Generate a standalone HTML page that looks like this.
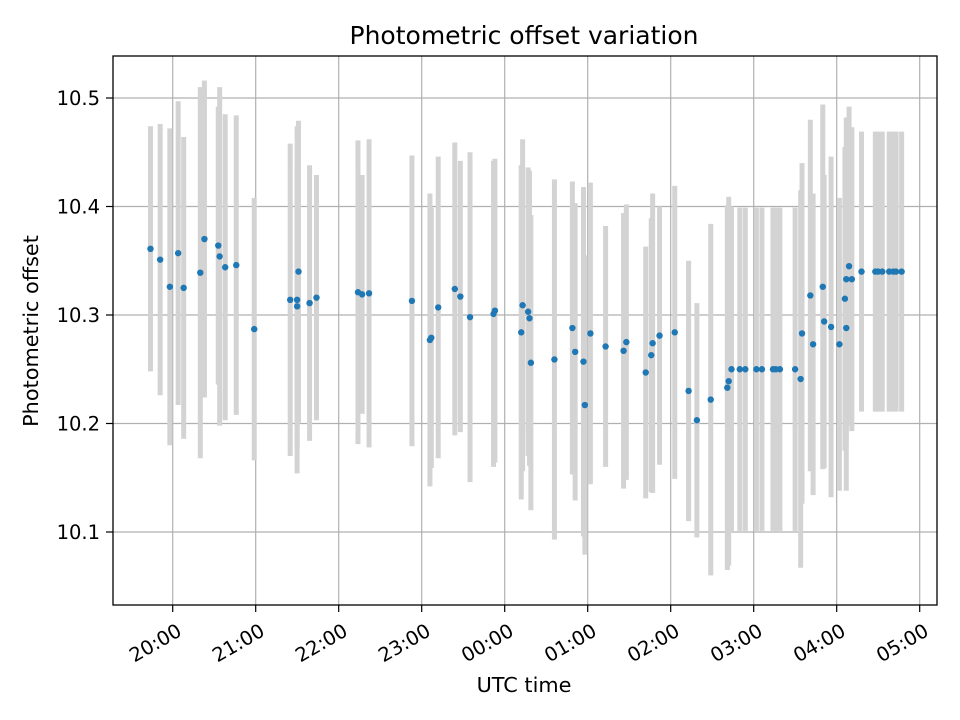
<!DOCTYPE html>
<html><head><meta charset="utf-8"><style>
body{margin:0;background:#fff}
svg{display:block;font-family:"DejaVu Sans","Liberation Sans",sans-serif}
</style></head><body>
<svg id="chart" width="960" height="720" viewBox="0 0 960 720">
<rect width="960" height="720" fill="#fff"/>
<text x="524" y="44" font-size="25" text-anchor="middle" fill="#000">Photometric offset variation</text>
<g id="grid"></g>
<g id="bars"></g>
<g id="pts"></g>
<rect x="113" y="56" width="824" height="549" fill="none" stroke="#000" stroke-width="1.3"/>
<g id="axes"></g>
<text x="524" y="692" font-size="20.8" text-anchor="middle">UTC time</text>
<text transform="translate(38,331) rotate(-90)" font-size="20.8" text-anchor="middle">Photometric offset</text>
</svg>
<script>
const times=["19:43","19:50","19:57","20:03","20:07","20:19","20:22","20:32","20:33","20:37","20:45","20:58",
"21:24","21:29","21:29","21:30","21:38","21:43","22:13","22:16","22:21",
"22:52","23:05","23:06","23:11","23:23","23:27","23:34","23:51","23:52",
"00:12","00:11","00:16","00:17","00:18","00:35","00:48","00:50","00:56","00:57","01:01","01:12","01:25","01:27","01:41","01:45","01:46","01:51",
"02:02","02:12","02:18","02:28","02:40","02:41","02:43","02:49","02:53","03:01","03:05","03:13","03:15","03:18","03:29","03:33","03:34","03:40","03:42","03:49","03:50","03:55",
"04:01","04:05","04:06","04:06","04:08","04:10","04:17","04:27","04:29","04:32","04:37","04:40","04:42","04:46"];
const values=[10.361,10.351,10.326,10.357,10.325,10.339,10.370,10.364,10.354,10.344,10.346,10.287,
10.314,10.308,10.314,10.340,10.311,10.316,10.321,10.319,10.320,
10.313,10.277,10.279,10.307,10.324,10.317,10.298,10.301,10.304,
10.309,10.284,10.303,10.297,10.256,10.259,10.288,10.266,10.257,10.217,10.283,10.271,10.267,10.275,10.247,10.263,10.274,10.281,
10.284,10.230,10.203,10.222,10.233,10.239,10.250,10.250,10.250,10.250,10.250,10.250,10.250,10.250,10.250,10.241,10.283,10.318,10.273,10.326,10.294,10.289,
10.273,10.315,10.288,10.333,10.345,10.333,10.340,10.340,10.340,10.340,10.340,10.340,10.340,10.340];
const errors=[0.113,0.125,0.146,0.140,0.139,0.171,0.146,0.128,0.156,0.141,0.138,0.121,
0.144,0.13,0.16,0.139,0.127,0.113,0.140,0.110,0.142,
0.134,0.135,0.12,0.139,0.135,0.125,0.152,0.141,0.14,
0.153,0.154,0.133,0.136,0.136,0.166,0.135,0.137,0.161,0.138,0.139,0.111,0.127,0.127,0.116,0.126,0.138,0.119,
0.135,0.120,0.108,0.162,0.168,0.17,0.15,0.149,0.149,0.149,0.149,0.149,0.149,0.149,0.149,0.174,0.157,0.162,0.139,0.168,0.135,0.157,
0.135,0.14,0.15,0.149,0.147,0.140,0.129,0.129,0.129,0.129,0.129,0.129,0.129,0.129];
const yTicks=[10.1,10.2,10.3,10.4,10.5];
const yTickLabels=["10.1","10.2","10.3","10.4","10.5"];
const xTicks=[0,60,120,180,240,300,360,420,480,540];
const xTickLabels=["20:00","21:00","22:00","23:00","00:00","01:00","02:00","03:00","04:00","05:00"];

const NS="http://www.w3.org/2000/svg";
function mins(t){let [h,m]=t.split(":").map(Number);if(h<12)h+=24;return (h-20)*60+m;}
function xS(m){return 174+m*83/60;}
function yS(v){return 98+(10.5-v)*1085;}
function mk(tag,attrs,parent){const e=document.createElementNS(NS,tag);for(const k in attrs)e.setAttribute(k,attrs[k]);parent.appendChild(e);return e;}
const grid=document.getElementById('grid'),axes=document.getElementById('axes'),bars=document.getElementById('bars'),pts=document.getElementById('pts');
yTicks.forEach((v,i)=>{const y=yS(v);
 const g=mk('line',{x1:113,x2:937,y1:y,y2:y,stroke:'#b0b0b0','stroke-width':1.2},grid);
 
 
 const t=mk('line',{x1:106,x2:113,y1:y,y2:y,stroke:'#000','stroke-width':1.2},axes);
 
 
 const l=mk('text',{x:100,y:y+7,'font-size':19.5,'text-anchor':'end'},axes);l.textContent=yTickLabels[i];
 
 
});
xTicks.forEach((m,i)=>{const x=xS(m)-1.3;
 const g=mk('line',{x1:x,x2:x,y1:56,y2:605,stroke:'#b0b0b0','stroke-width':1.2},grid);
 
 
 const t=mk('line',{x1:x,x2:x,y1:605,y2:612,stroke:'#000','stroke-width':1.2},axes);
 
 
 const l=mk('text',{transform:`translate(${x+3},${622}) rotate(-30)`,'font-size':19.5,'text-anchor':'end',dy:'0.75em'},axes);l.textContent=xTickLabels[i];
 
 
});
times.forEach((t,i)=>{const x=xS(mins(t));
 const b=mk('line',{x1:x,x2:x,y1:yS(values[i]+errors[i]),y2:yS(values[i]-errors[i]),stroke:'#d3d3d3','stroke-width':5},bars);
 
 
});
times.forEach((t,i)=>{
 const c=mk('circle',{cx:xS(mins(t)),cy:yS(values[i]),r:3.2,fill:'#1f77b4'},pts);
 
 
});
</script>
</body></html>
